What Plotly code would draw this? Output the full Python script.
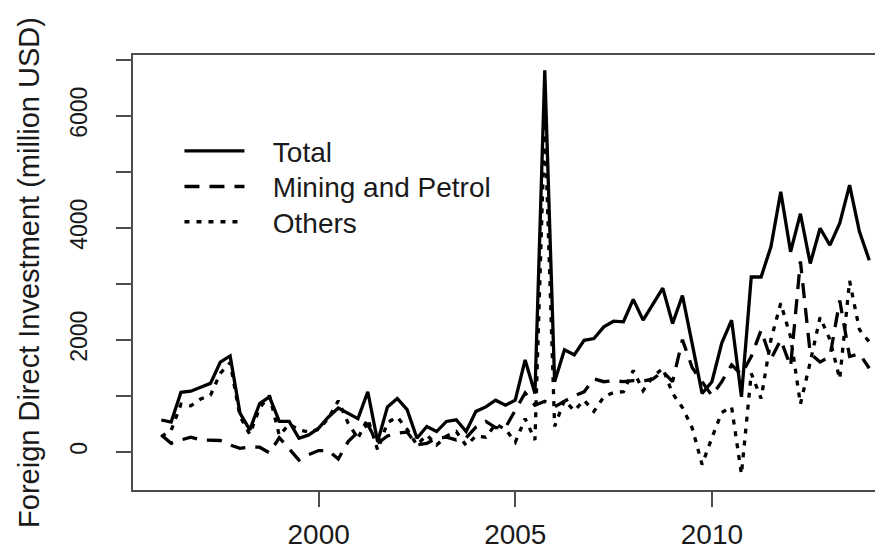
import plotly.graph_objects as go

years = [1996 + i * 0.25 for i in range(73)]

total = [566, 530, 1060, 1080, 1150, 1220, 1600, 1710, 690, 390, 860, 980,
         540, 540, 240, 300, 420, 620, 780, 690, 590, 1070, 180, 800,
         950, 750, 240, 450, 360, 540, 570, 360, 720, 800, 920, 830,
         920, 1640, 1040, 6810, 1250, 1820, 1730, 1990, 2020, 2230, 2330, 2320,
         2720, 2350, 2640, 2920, 2290, 2790, 1920, 1040, 1250, 1940, 2350, 980,
         3120, 3120, 3660, 4640, 3570, 4250, 3360, 3990, 3690, 4080, 4760, 3930,
         3420]

mining = [300, 150, 210, 260, 210, 210, 200, 120, 60, 80, 80, -20,
          250, 50, -150, -50, 20, 20, -130, 180, 350, 480, 150, 280,
          330, 350, 120, 150, 240, 260, 210, 250, 440, 540, 430, 430,
          750, 1050, 830, 900, 800, 900, 1000, 1070, 1300, 1250, 1270, 1250,
          1270, 1260, 1300, 1430, 1250, 2000, 1500, 1250, 1000, 1250, 1550, 1380,
          1700, 2170, 1650, 2000, 1520, 3400, 1750, 1600, 1700, 2700, 1700, 1750,
          1490]

others = [270, 380, 850, 820, 940, 1010, 1400, 1590, 630, 310, 780, 1000,
          290, 490, 390, 350, 400, 600, 910, 510, 240, 590, 30, 520,
          620, 400, 120, 300, 120, 280, 360, 110, 280, 260, 490, 400,
          170, 590, 210, 5900, 450, 920, 730, 920, 720, 980, 1060, 1070,
          1450, 1090, 1340, 1490, 1040, 790, 420, -230, 250, 700, 800, -400,
          1400, 950, 2000, 2650, 2050, 850, 1600, 2400, 2000, 1300, 3050, 2180,
          1960]

series_names = ["Total", "Mining and Petrol", "Others"]
dashes = ["solid", "15px,10px", "5px,7px"]
legend_ids = ["legend", "legend2", "legend3"]
legend_rows = [0.779, 0.697, 0.616]

ytick_vals = [0, 1000, 2000, 3000, 4000, 5000, 6000, 7000]
ytick_text = ["0", "", "2000", "", "4000", "", "6000", ""]
xtick_vals = [2000, 2005, 2010]
xtick_text = ["2000", "2005", "2010"]

FONT = "Liberation Sans, Arial, sans-serif"
AXC = "#4d4d4d"
GAP = "\u00a0\u00a0\u00a0"

fig = go.Figure()
for name, vals, dash, lid in zip(series_names, [total, mining, others], dashes, legend_ids):
    fig.add_trace(go.Scatter(x=years, y=vals, mode="lines", name=GAP + name,
                             legend=lid,
                             line=dict(color="black", width=3.3, dash=dash)))

legend_layout = {}
for lid, ypos in zip(legend_ids, legend_rows):
    legend_layout[lid] = dict(x=0.0613, y=ypos, xanchor="left", yanchor="middle",
                              bgcolor="rgba(0,0,0,0)", font=dict(size=28),
                              itemwidth=60)

fig.update_layout(
    width=883, height=550,
    margin=dict(l=125, r=0, t=47, b=68, autoexpand=False),
    plot_bgcolor="white", paper_bgcolor="white",
    font=dict(family=FONT, color="#1a1a1a", size=28),
    showlegend=True,
    **legend_layout,
)
fig.update_xaxes(range=[1995.28, 2014.553], showgrid=False, zeroline=False,
                 showline=True, mirror=True, linecolor=AXC, linewidth=2,
                 ticks="outside", ticklen=15, tickwidth=2, tickcolor=AXC,
                 tickvals=xtick_vals, ticktext=xtick_text,
                 tickfont=dict(size=28), ticklabelstandoff=3)
fig.update_yaxes(range=[-684, 7084], showgrid=False, zeroline=False,
                 showline=True, mirror=False, linecolor=AXC, linewidth=2,
                 ticks="outside", ticklen=15, tickwidth=2, tickcolor=AXC,
                 tickvals=ytick_vals, ticktext=ytick_text, tickangle=-90,
                 tickfont=dict(size=23), ticklabelstandoff=20,
                 title=dict(text="Foreign Direct Investment (million USD)",
                            font=dict(size=29), standoff=18))

fig.write_html("out.html")
